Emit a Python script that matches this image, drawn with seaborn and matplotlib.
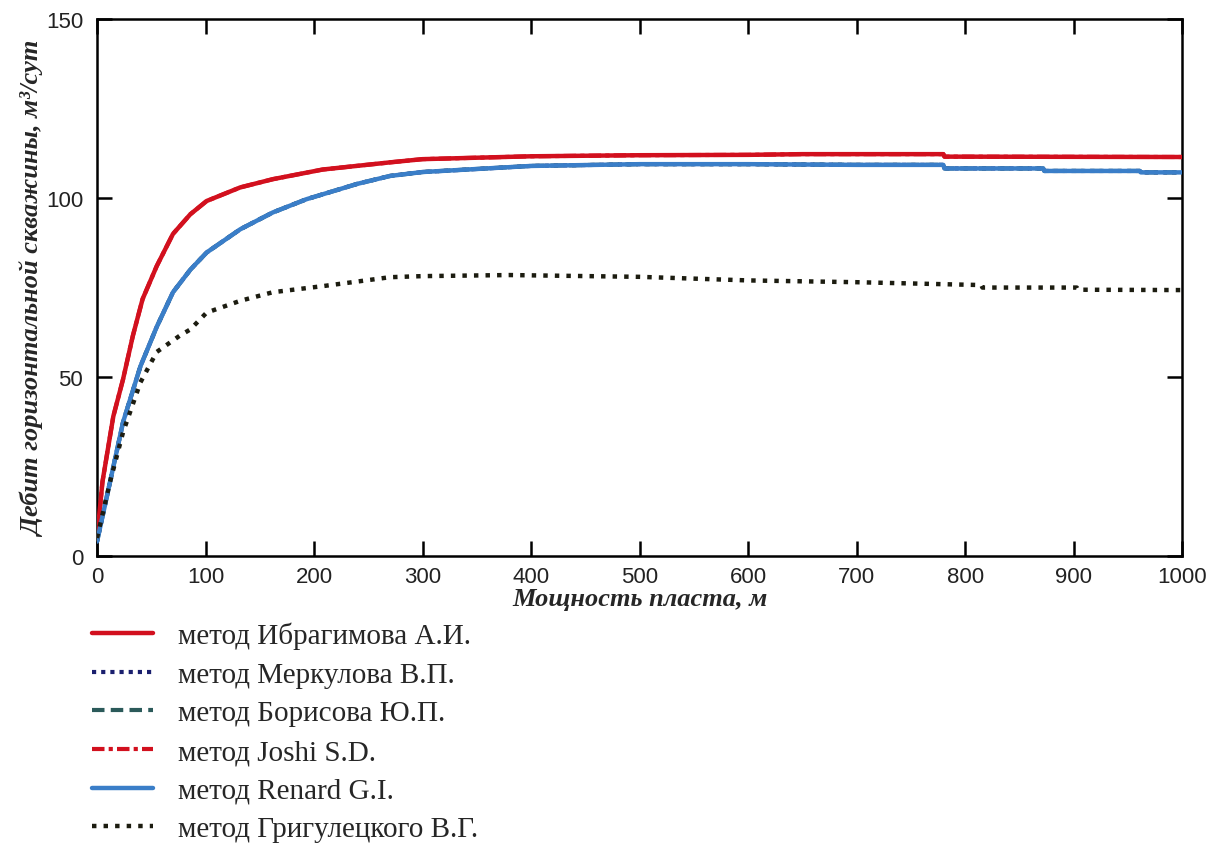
import numpy as np
import pandas as pd
import matplotlib
matplotlib.use("Agg")
import matplotlib.pyplot as plt
import seaborn as sns
from matplotlib import font_manager as fm

# Thickness of the formation, m
x_ibr = [0, 5, 15, 24, 33, 42, 55, 70, 86, 101, 132, 162, 208, 270, 300, 400, 500, 600, 650, 780, 781, 1000]
y_ibr = [5, 20.7, 39, 49.4, 61.5, 71.8, 81, 90, 95.5, 99.2, 103, 105.3, 108, 110, 110.9, 111.7, 112, 112.1, 112.3, 112.3, 111.6, 111.5]

x_ren = [0, 12, 24, 40, 55, 70, 86, 101, 132, 162, 193, 240, 270, 300, 400, 500, 600, 700, 780, 781, 872, 873, 961, 962, 1000]
y_ren = [4, 20.7, 37.4, 53, 64, 73.7, 80, 84.8, 91.3, 96, 99.7, 104, 106.2, 107.3, 109, 109.5, 109.5, 109.3, 109.3, 108.3, 108.3, 107.6, 107.6, 107.2, 107.2]

x_gri = [0, 12, 24, 40, 55, 76, 86, 101, 132, 162, 208, 270, 300, 380, 500, 600, 700, 815, 816, 903, 904, 1000]
y_gri = [5, 20.7, 34.6, 48.5, 57, 61.5, 63.3, 68, 71.3, 73.7, 75.4, 77.9, 78.2, 78.5, 78, 77, 76.5, 75.7, 75.0, 75.0, 74.4, 74.3]

labels = ["метод Ибрагимова А.И.", "метод Меркулова В.П.", "метод Борисова Ю.П.",
          "метод Joshi S.D.", "метод Renard G.I.", "метод Григулецкого В.Г."]

sns.set_theme(style="white")
plt.rcParams['font.family'] = ['Liberation Serif', 'DejaVu Serif']

names = {f.name for f in fm.fontManager.ttflist}
tick_family = 'Liberation Sans Narrow' if 'Liberation Sans Narrow' in names else 'Liberation Sans'

fig = plt.figure(figsize=(12.13, 8.45), dpi=100)
ax = fig.add_axes([0.080, 0.341, 0.8945, 0.635])

red = "#d2101e"
blue = "#3a7ec8"

# overlapping curves drawn first
sns.lineplot(x=x_ren, y=y_ren, ax=ax, color="#1a1f6e", lw=3, linestyle=(0, (1, 1.2)), label=labels[1], zorder=2)
sns.lineplot(x=x_ren, y=y_ren, ax=ax, color="#2b5a5a", lw=3, linestyle=(0, (3, 1.5)), label=labels[2], zorder=2)
sns.lineplot(x=x_ibr, y=y_ibr, ax=ax, color=red, lw=3, linestyle=(0, (3, 1, 1, 1)), label=labels[3], zorder=2)

sns.lineplot(x=x_ibr, y=y_ibr, ax=ax, color=red, lw=3.2, label=labels[0], zorder=4)
sns.lineplot(x=x_ren, y=y_ren, ax=ax, color=blue, lw=3.2, label=labels[4], zorder=4)
sns.lineplot(x=x_gri, y=y_gri, ax=ax, color="#1c1c10", lw=3.2, linestyle=(0, (1, 1.6)), label=labels[5], zorder=5)

ax.set_xlim(0, 1000)
ax.set_ylim(0, 150)
ax.set_xticks(range(0, 1001, 100))
ax.set_yticks([0, 50, 100, 150])
for s in ax.spines.values():
    s.set_visible(True)
    s.set_color("black")
    s.set_linewidth(1.8)
ax.tick_params(axis="both", direction="in", length=11, width=1.8, labelsize=16, color="black",
               labelcolor="#222222")
ax.tick_params(axis="x", pad=7, top=True, bottom=True)
ax.tick_params(axis="y", right=True, left=True, pad=10)
for lab in ax.get_xticklabels() + ax.get_yticklabels():
    lab.set_family(tick_family)

ax.set_xlabel("Мощность пласта, м", fontsize=19, fontweight="bold", fontstyle="italic", labelpad=0)
ax.set_ylabel("Дебит горизонтальной скважины, м³/сут", fontsize=19, fontweight="bold",
              fontstyle="italic")
ax.yaxis.set_label_coords(-0.048, 0.5)

handles, labs = ax.get_legend_handles_labels()
order = [labs.index(l) for l in labels]
ax.get_legend().remove()
fig.legend([handles[i] for i in order], [labs[i] for i in order],
           loc="upper left", bbox_to_anchor=(0.066, 0.277), frameon=False,
           fontsize=21, handlelength=2.1, handletextpad=0.85, labelspacing=0.42,
           borderaxespad=0)

fig.savefig("out.png", dpi=100, facecolor="white")
